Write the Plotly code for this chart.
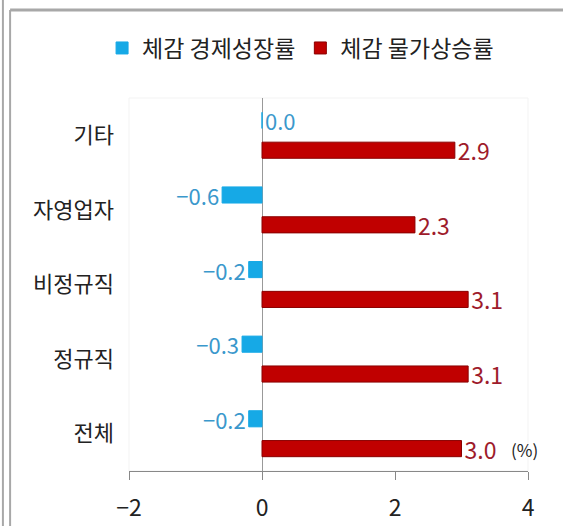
import plotly.graph_objects as go

categories = ["기타", "자영업자", "비정규직", "정규직", "전체"]
growth = [0.0, -0.6, -0.2, -0.3, -0.2]
inflation = [2.9, 2.3, 3.1, 3.1, 3.0]
series_names = ["체감 경제성장률", "체감 물가상승률"]
x_ticks = [-2, 0, 2, 4]

FONT = "Noto Sans CJK KR"
BLUE = "#16a9e6"
RED = "#c00000"


def fmt(v):
    return f"{v:.1f}".replace("-", "−")


fig = go.Figure()
fig.add_trace(go.Bar(
    y=categories, x=growth, orientation="h", name=series_names[0],
    marker=dict(color=BLUE, line=dict(color=BLUE, width=1)),
    text=[fmt(v) for v in growth], textposition="outside", cliponaxis=False,
    constraintext="none",
    textfont=dict(family=FONT, size=22, color="#3a98cc"),
))
fig.add_trace(go.Bar(
    y=categories, x=inflation, orientation="h", name=series_names[1],
    marker=dict(color=RED, line=dict(color="#8a0000", width=1)),
    text=[fmt(v) for v in inflation], textposition="outside", cliponaxis=False,
    constraintext="none",
    textfont=dict(family=FONT, size=23, color="#9e1b2b"),
))

fig.update_layout(
    width=563, height=526,
    margin=dict(l=129, r=35, t=98, b=55, autoexpand=False),
    paper_bgcolor="white", plot_bgcolor="white",
    barmode="group", bargap=0.2, bargroupgap=0.46,
    font=dict(family=FONT, color="#222222"),
    showlegend=True,
    legend=dict(orientation="h", x=0.43, xanchor="center", y=1.134, yanchor="middle",
                font=dict(family=FONT, size=23, color="#222222"),
                itemwidth=30, tracegroupgap=0, bgcolor="rgba(0,0,0,0)"),
    xaxis=dict(range=[-2, 4], tickvals=x_ticks, ticktext=[f"{v:d}".replace("-", "−") for v in x_ticks],
               automargin=False,
               showgrid=False, zeroline=True, zerolinecolor="#999999", zerolinewidth=1,
               showline=True, linecolor="#888888", linewidth=1,
               ticks="outside", ticklen=8, tickcolor="#888888", ticklabelstandoff=8,
               tickfont=dict(family=FONT, size=23, color="#222222")),
    yaxis=dict(autorange="reversed", showgrid=False, zeroline=False, showline=False,
               automargin=False,
               ticks="", ticklabelstandoff=14,
               tickfont=dict(family=FONT, size=22, color="#222222")),
)

fig.add_annotation(text="(%)", xref="paper", yref="paper", x=0.99, y=0.058,
                   xanchor="center", yanchor="middle", showarrow=False,
                   font=dict(family=FONT, size=17, color="#222222"))

# faint plot-area border
fig.add_shape(type="rect", xref="paper", yref="paper", x0=0, x1=1, y0=0, y1=1,
              line=dict(color="#f3f3f3", width=1), layer="below")
# outer frame lines
fig.add_shape(type="line", xref="paper", yref="paper", x0=-0.316, x1=-0.316, y0=-0.2, y1=1.3,
              line=dict(color="#a8a8a8", width=2))
fig.add_shape(type="line", xref="paper", yref="paper", x0=-0.298, x1=-0.298, y0=-0.2, y1=1.236,
              line=dict(color="#a8a8a8", width=2))
fig.add_shape(type="line", xref="paper", yref="paper", x0=-0.298, x1=1.2, y0=1.236, y1=1.236,
              line=dict(color="#a8a8a8", width=3))

fig.write_html("out.html", config={"displayModeBar": False},
               post_script="document.body.style.margin='0';")
